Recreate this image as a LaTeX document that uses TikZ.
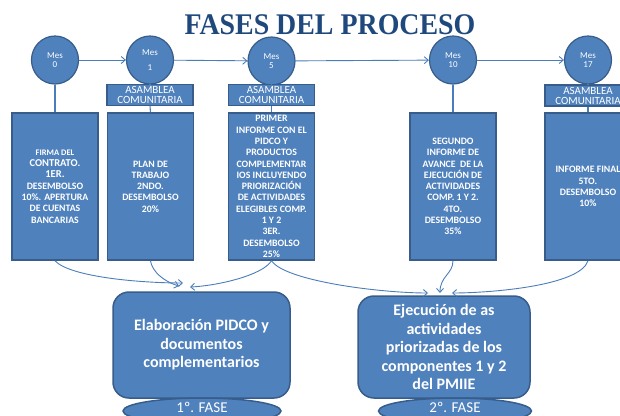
\documentclass[tikz,border=0pt]{standalone}
\usepackage{fontspec}
\setmainfont{Carlito}
\newfontfamily\titlefont[FakeStretch=0.93]{Liberation Serif}
\usetikzlibrary{arrows.meta,shapes.geometric}
\definecolor{fillblue}{RGB}{79,129,189}
\definecolor{edgeblue}{RGB}{56,93,138}
\definecolor{linkblue}{RGB}{74,126,187}
\definecolor{titleblue}{RGB}{31,73,125}
\begin{document}
\begin{tikzpicture}[x=1pt,y=-1pt,
  mes/.style={ellipse, fill=fillblue, draw=edgeblue, line width=1.2pt, minimum width=47pt, minimum height=48pt, inner sep=0pt, text=white, font=\fontsize{9}{9.5}\selectfont, align=center},
  asm/.style={rectangle, fill=fillblue, draw=edgeblue, line width=1.5pt, minimum width=86pt, minimum height=21pt, inner sep=0pt, text=white, font=\fontsize{11}{10}\selectfont, align=center},
  big/.style={rectangle, fill=fillblue, draw=edgeblue, line width=1.5pt, minimum width=86pt, minimum height=147pt, inner sep=0pt, text=white, font=\bfseries\fontsize{9.8}{11.3}\selectfont, align=center},
  phase/.style={rectangle, rounded corners=16pt, fill=fillblue, draw=edgeblue, line width=1.5pt, inner sep=0pt, text=white, font=\bfseries\fontsize{16}{18.5}\selectfont, align=center},
  fase/.style={ellipse, fill=fillblue, draw=edgeblue, line width=1.5pt, inner sep=0pt, minimum height=26pt},
  fasetext/.style={text=white, font=\fontsize{15}{16}\selectfont, inner sep=0pt},
  link/.style={draw=linkblue, line width=1.1pt},
  tip/.style={draw=linkblue, line width=0.9pt, -{Straight Barb[length=4pt,width=7pt]}}
]
\useasboundingbox (0,0) rectangle (620,415);
\fill[white] (0,0) rectangle (620,415);

\node[text=titleblue, font=\titlefont\bfseries\fontsize{30}{30}\selectfont, inner sep=0pt] (title) at (330,25) {FASES DEL PROCESO};

% month circles
\node[mes] (m0) at (55,60) {Mes\\0};
\node[mes] (m1) at (150,60) {Mes\\[6pt]1};
\node[mes] (m5) at (271.5,61) {Mes\\5};
\node[mes] (m10) at (453,60) {Mes\\10};
\node[mes] (m17) at (588,60) {Mes\\17};

% asamblea boxes
\node[asm] (a1) at (150,95) {ASAMBLEA\\COMUNITARIA};
\node[asm] (a2) at (271.5,95) {ASAMBLEA\\COMUNITARIA};
\node[asm] (a3) at (588,95.5) {ASAMBLEA\\COMUNITARIA};

% big boxes
\node[big] (b1) at (55,186.5) {{\fontsize{8.5}{11.3}\selectfont FIRMA DEL}\\{\fontsize{10.5}{11.3}\selectfont CONTRATO.}\\{\fontsize{10.5}{11.3}\selectfont 1ER.}\\DESEMBOLSO\\10\%. APERTURA\\DE CUENTAS\\BANCARIAS};
\node[big] (b2) at (150.5,186.5) {PLAN DE\\TRABAJO\\2NDO.\\DESEMBOLSO\\20\%};
\node[big] (b3) at (271.5,186.5) {PRIMER\\INFORME CON EL\\PIDCO Y\\PRODUCTOS\\COMPLEMENTAR\\IOS INCLUYENDO\\PRIORIZACIÓN\\DE ACTIVIDADES\\ELEGIBLES COMP.\\1 Y 2\\3ER.\\DESEMBOLSO\\25\%};
\node[big] (b4) at (453,186.5) {SEGUNDO\\INFORME DE\\AVANCE\ \ DE LA\\EJECUCIÓN DE\\ACTIVIDADES\\COMP. 1 Y 2.\\4TO.\\DESEMBOLSO\\35\%};
\node[big] (b5) at (588,186.5) {INFORME FINAL\\5TO.\\DESEMBOLSO\\10\%};

% phase boxes
\node[phase, minimum width=177pt, minimum height=106pt] (p1) at (201.5,345) {Elaboración PIDCO y\\documentos\\complementarios};
\node[phase, minimum width=172pt, minimum height=102pt] (p2) at (444,347) {Ejecución de as\\actividades\\priorizadas de los\\componentes 1 y 2\\del PMIIE};
\node[fase, minimum width=158pt] (f1) at (202,411) {};
\node[fase, minimum width=153pt] (f2) at (455,411) {};
\node[fasetext] (f1t) at (202,407) {1º. FASE};
\node[fasetext] (f2t) at (455,407) {2º. FASE};

% timeline arrows
\draw[tip] (m0) -- (m1);
\draw[tip] (m1) -- (m5);
\draw[tip] (m5) -- (m10);
\draw[tip] (m10) -- (m17);

% vertical connectors
\draw[link] (m0.south) -- (b1.north);
\draw[link] (m1.south) -- (a1.north);
\draw[link] (a1.south) -- (b2.north);
\draw[link] (m5.south) -- (a2.north);
\draw[link] (a2.south) -- (b3.north);
\draw[link] (m10.south) -- (b4.north);
\draw[link] (m17.south) -- (a3.north);
\draw[link] (a3.south) -- (b5.north);

% targets of curved arrows
\coordinate (t1) at (183,283);
\coordinate (t2) at (179,286);
\coordinate (t3) at (190,287);
\coordinate (t4) at (428,293);
\coordinate (t5) at (440,293);
\coordinate (t6) at (452,293);

\draw[tip] (b1.south) .. controls (70,277) and (140,283) .. (t1);
\draw[tip] (b2.south) .. controls (152,272) and (165,282) .. (t2);
\draw[tip] (b3.south) .. controls (262,276) and (215,286) .. (t3);
\draw[tip] (b3.south) .. controls (285,281) and (380,293) .. (t4);
\draw[tip] (b4.south) .. controls (453,274) and (440,276) .. (t5);
\draw[tip] (b5.south) .. controls (580,286) and (490,293) .. (t6);
\end{tikzpicture}
\end{document}
